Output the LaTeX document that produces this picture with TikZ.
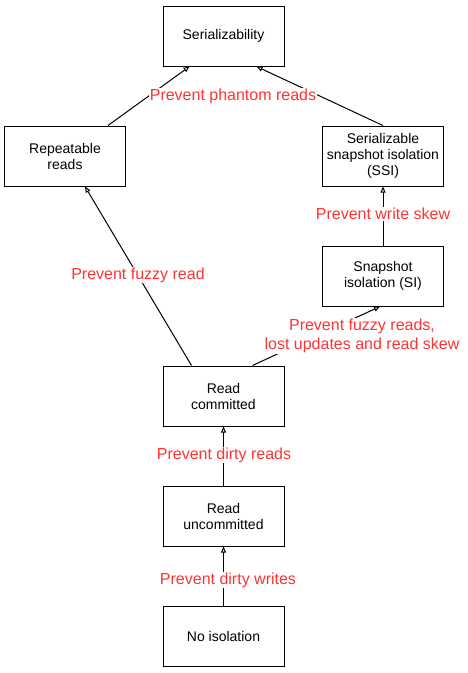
\documentclass[tikz,border=0pt]{standalone}
\usepackage{fontspec}
\setmainfont{Liberation Sans}
\usetikzlibrary{arrows.meta}
\definecolor{lblred}{HTML}{FF3333}
\begin{document}
\begin{tikzpicture}[x=1pt,y=-1pt,
 box/.style={draw, line width=1pt, minimum width=121pt, minimum height=60pt, align=center, font=\fontsize{14}{16}\selectfont, inner sep=0pt},
 conn/.style={draw, line width=1pt, -{Triangle[open,length=6pt,width=5pt]}},
 lbl/.style={fill=white, text=lblred, font=\fontsize{16}{19}\selectfont, align=center, inner sep=1pt}]
\useasboundingbox (0,0) rectangle (468,673);
\node[box] (ser) at (223.5,36) {Serializability};
\node[box] (rr) at (65,156) {Repeatable\\reads};
\node[box] (ssi) at (383,156) {Serializable\\snapshot isolation\\(SSI)};
\node[box] (si) at (383,276) {Snapshot\\isolation (SI)};
\node[box] (rc) at (223.5,396) {Read\\committed};
\node[box] (ru) at (223.5,516) {Read\\uncommitted};
\node[box] (ni) at (223.5,636) {No isolation};

\draw[conn] ([xshift=-18pt]rr.north east) -- ([xshift=27pt]ser.south west);
\draw[conn] (ssi.north) -- ([xshift=-28pt]ser.south east);
\draw[conn] (si.north) -- (ssi.south);
\draw[conn] ([xshift=-32pt]rc.north east) -- ([xshift=-3pt]si.south);
\draw[conn] ([xshift=29pt]rc.north west) -- ([xshift=20pt]rr.south);
\draw[conn] (ru.north) -- (rc.south);
\draw[conn] (ni.north) -- (ru.south);

\node[lbl] (l1) at (233,96) {Prevent phantom reads};
\node[lbl] (l2) at (383,214) {Prevent write skew};
\node[lbl] (l3) at (362,336) {Prevent fuzzy reads,\\lost updates and read skew};
\node[lbl] (l4) at (138,275) {Prevent fuzzy read};
\node[lbl] (l5) at (224,455) {Prevent dirty reads};
\node[lbl] (l6) at (228,580) {Prevent dirty writes};
\end{tikzpicture}
\end{document}
